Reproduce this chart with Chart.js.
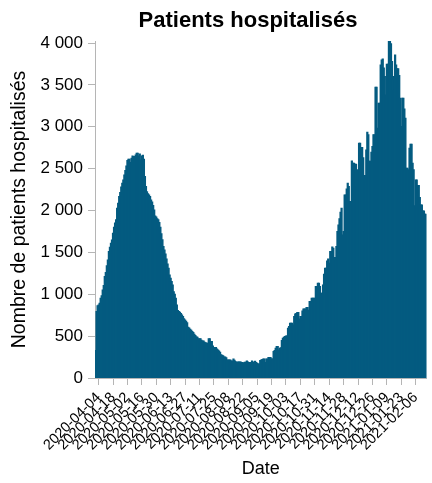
<!DOCTYPE html>
<html>
<head>
<meta charset="utf-8">
<script src="https://cdn.jsdelivr.net/npm/chart.js@4/dist/chart.umd.min.js"></script>
<style>
  html, body { margin: 0; padding: 0; background: #fff; }
  #wrap { width: 432px; height: 483px; }
</style>
</head>
<body>
<div id="wrap"><canvas id="mycanvas" width="432" height="483"></canvas></div>
<script>
// first day of the series, one bar per day
const START_DATE = '2020-04-01';

// dates that get a tick + label on the x axis (every 2 weeks)
const TICK_DATES = [
  '2020-04-04', '2020-04-18', '2020-05-02', '2020-05-16', '2020-05-30',
  '2020-06-13', '2020-06-27', '2020-07-11', '2020-07-25', '2020-08-08',
  '2020-08-22', '2020-09-05', '2020-09-19', '2020-10-03', '2020-10-17',
  '2020-10-31', '2020-11-14', '2020-11-28', '2020-12-12', '2020-12-26',
  '2021-01-09', '2021-01-23', '2021-02-06'
];

// y axis ticks
const Y_TICKS = [0, 500, 1000, 1500, 2000, 2500, 3000, 3500, 4000];

// patients hospitalises, one value per day
const HOSPITALISES = [
  326, 792, 863, 870, 891, 951, 980, 1050, 1102, 1210,
  1258, 1340, 1409, 1508, 1560, 1608, 1648, 1728, 1799, 1850,
  1887, 2026, 2086, 2165, 2213, 2280, 2325, 2364, 2424, 2475,
  2531, 2595, 2611, 2611, 2571, 2623, 2651, 2643, 2643, 2663,
  2683, 2683, 2651, 2675, 2603, 2651, 2660, 2611, 2404, 2284,
  2224, 2200, 2185, 2165, 2125, 2100, 2060, 2006, 1934, 1920,
  1900, 1887, 1855, 1800, 1720, 1650, 1568, 1528, 1480, 1420,
  1361, 1310, 1230, 1190, 1150, 1110, 1030, 1000, 950, 870,
  804, 792, 785, 770, 752, 732, 705, 690, 675, 660,
  605, 595, 580, 570, 553, 541, 520, 505, 490, 486,
  466, 466, 466, 450, 442, 442, 425, 421, 414, 414,
  466, 466, 434, 434, 382, 342, 362, 362, 345, 334,
  320, 307, 275, 270, 263, 251, 251, 240, 215, 215,
  215, 215, 203, 203, 227, 210, 195, 183, 191, 191,
  191, 191, 183, 183, 171, 187, 187, 203, 190, 183,
  183, 183, 203, 190, 183, 199, 183, 175, 167, 167,
  207, 215, 219, 227, 227, 183, 227, 227, 243, 243,
  243, 230, 227, 314, 326, 354, 374, 374, 334, 354,
  360, 446, 474, 485, 494, 501, 501, 593, 613, 653,
  653, 653, 633, 732, 764, 770, 780, 780, 704, 732,
  732, 800, 824, 824, 824, 840, 840, 808, 911, 911,
  951, 951, 951, 951, 1090, 1090, 1131, 1131, 1090, 1011,
  1011, 1110, 1238, 1310, 1310, 1397, 1421, 1369, 1508, 1508,
  1564, 1548, 1437, 1437, 1568, 1747, 1827, 1900, 1978, 2026,
  1707, 1747, 2185, 2185, 2257, 2325, 2285, 2105, 2105, 2591,
  2563, 2563, 2551, 2551, 2285, 2484, 2802, 2802, 2750, 2750,
  2630, 2416, 2416, 2722, 2934, 2902, 2587, 2587, 2695, 2762,
  2902, 2902, 3471, 3471, 2982, 3280, 3280, 3737, 3797, 3809,
  3700, 3598, 3379, 3745, 3745, 4024, 4016, 3990, 3777, 3600,
  3439, 3857, 3737, 3690, 3690, 3610, 3340, 3001, 3340, 3340,
  3212, 3101, 2504, 2504, 2484, 2742, 2790, 2790, 2563, 2484,
  2057, 2364, 2364, 2296, 2296, 2153, 2066, 2066, 1994, 1994,
  1955, 1955
];

const BAR_COLOR = '#045b80';
const AXIS_COLOR = '#b5b5b5';
const FONT = '"Liberation Sans", Arial, Helvetica, sans-serif';

// one label per value, day after day
function buildDates(start, n) {
  var out = [];
  var t0 = Date.parse(start + 'T00:00:00Z');
  for (var i = 0; i < n; i++) {
    out.push(new Date(t0 + i * 86400000).toISOString().slice(0, 10));
  }
  return out;
}

// "4 000" style
function formatFr(v) {
  if (v < 1000) return String(v);
  var k = Math.floor(v / 1000);
  var r = String(v % 1000).padStart(3, '0');
  return k + ' ' + r;
}

// title centered like the original (not over the canvas middle)
const titlePlugin = {
  id: 'topTitle',
  afterDraw(chart) {
    const ctx = chart.ctx;
    ctx.save();
    ctx.font = 'bold 22px ' + FONT;
    ctx.fillStyle = '#000';
    ctx.textAlign = 'center';
    ctx.textBaseline = 'alphabetic';
    ctx.fillText('Patients hospitalisés', 248, 27);
    ctx.restore();
  }
};

const dates = buildDates(START_DATE, HOSPITALISES.length);

const ctx = document.getElementById('mycanvas');
window.myChart = new Chart(ctx, {
  type: 'bar',
  data: {
    labels: dates,
    datasets: [{
      label: 'Patients hospitalisés',
      data: HOSPITALISES,
      backgroundColor: BAR_COLOR,
      borderWidth: 0,
      barPercentage: 1,
      categoryPercentage: 1,
      inflateAmount: 0.6
    }]
  },
  options: {
    responsive: false,
    animation: false,
    layout: { padding: { top: 41, right: 0, bottom: 0, left: 0 } },
    plugins: {
      legend: { display: false },
      tooltip: { enabled: false },
      title: { display: false }
    },
    scales: {
      x: {
        offset: true,
        grid: { offset: false, drawOnChartArea: false, drawTicks: true, tickLength: 7, color: AXIS_COLOR },
        border: { display: true, color: AXIS_COLOR },
        ticks: {
          autoSkip: false,
          minRotation: 45,
          maxRotation: 45,
          padding: 4,
          color: '#000',
          font: { family: FONT, size: 14.5 },
          callback: function(value) {
            var d = this.getLabelForValue(value);
            return TICK_DATES.includes(d) ? d : null;
          }
        },
        title: {
          display: true,
          text: 'Date',
          color: '#000',
          font: { family: FONT, size: 18 },
          padding: { top: 0, bottom: 3 }
        },
        afterFit: function(scale) { scale.height = 105; }
      },
      y: {
        min: 0,
        max: Math.max.apply(null, HOSPITALISES),
        grid: { drawOnChartArea: false, drawTicks: true, tickLength: 7, color: AXIS_COLOR },
        border: { display: true, color: AXIS_COLOR },
        afterBuildTicks: function(scale) {
          scale.ticks = Y_TICKS.map(function(v) { return { value: v }; });
        },
        ticks: {
          padding: 5,
          color: '#000',
          font: { family: FONT, size: 17 },
          callback: function(value) { return formatFr(value); }
        },
        title: {
          display: true,
          text: 'Nombre de patients hospitalisés',
          color: '#000',
          font: { family: FONT, size: 19.5 },
          padding: { top: 8, bottom: 0 }
        },
        afterFit: function(scale) { scale.width = 95; }
      }
    }
  },
  plugins: [titlePlugin]
});
</script>
</body>
</html>
